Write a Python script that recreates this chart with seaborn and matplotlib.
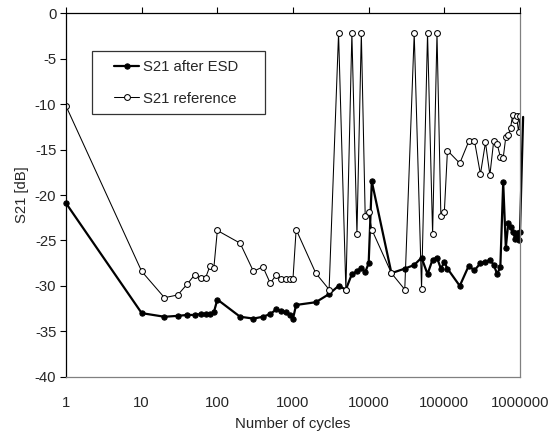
import numpy as np
import pandas as pd
import matplotlib
matplotlib.use("Agg")
import matplotlib.pyplot as plt
import matplotlib.ticker as mticker
import seaborn as sns

# ================= DADOS =================
cycles = [1, 10, 20, 30, 40, 50, 60, 70, 80, 90, 100,
          200, 300, 400, 500, 600, 700, 800, 900, 1000, 1100,
          2000, 3000, 4000, 5000, 6000, 7000, 8000, 9000, 10000, 11000,
          20000, 30000, 40000, 50000, 60000, 70000, 80000, 90000, 100000, 110000,
          160000, 210000, 250000, 300000, 350000, 400000, 450000, 500000, 550000,
          600000, 650000, 700000, 750000, 800000, 870000, 900000, 960000, 1000000,
          1100000]

s21_esd = [-20.9, -33.0, -33.4, -33.3, -33.2, -33.2, -33.1, -33.1, -33.1, -32.9, -31.5,
           -33.4, -33.6, -33.4, -33.1, -32.6, -32.8, -32.9, -33.2, -33.6, -32.1,
           -31.8, -30.9, -30.0, -30.4, -28.7, -28.4, -28.0, -28.5, -27.5, -18.5,
           -28.6, -28.1, -27.7, -26.9, -28.7, -27.1, -26.9, -28.1, -27.4, -28.1,
           -30.0, -27.8, -28.3, -27.5, -27.4, -27.1, -27.7, -28.7, -27.9,
           -18.6, -25.8, -23.1, -23.5, -24.1, -24.8, -24.2, -24.9, -24.1,
           -11.4]

s21_ref = [-10.2, -28.4, -31.3, -31.0, -29.8, -28.8, -29.1, -29.1, -27.8, -28.0, -23.9,
           -25.3, -28.4, -27.9, -29.7, -28.8, -29.2, -29.2, -29.2, -29.2, -23.8,
           -28.6, -30.4, -2.2, -30.5, -2.2, -24.3, -2.2, -22.3, -21.9, -23.8,
           -28.6, -30.4, -2.2, -30.3, -2.2, -24.3, -2.2, -22.3, -21.9, -15.1,
           -16.5, -14.1, -14.0, -17.7, -14.2, -17.8, -14.0, -14.4, -15.8,
           -15.9, -13.6, -13.4, -12.6, -11.2, -11.7, -11.3, -13.1, -11.3,
           np.nan]

x_ticks = [1, 10, 100, 1000, 10000, 100000, 1000000]
y_ticks = [-40, -35, -30, -25, -20, -15, -10, -5, 0]

FONTE = 10.7

# ================= GRÁFICO =================
sns.set_style("white")
plt.rcParams['font.family'] = ['Liberation Sans', 'DejaVu Sans']
plt.rcParams['axes.unicode_minus'] = False

df = pd.DataFrame({'cycles': cycles, 'esd': s21_esd, 'ref': s21_ref})

fig = plt.figure(figsize=(5.52, 4.32), dpi=100)
ax = fig.add_axes([0.1196, 0.128, 0.8224, 0.841])

n = len(df)
sns.lineplot(data=df, x='cycles', y='esd', ax=ax, color='black', linewidth=1.6,
             marker='o', markersize=3.8, markerfacecolor='black', markeredgecolor='black',
             label='S21 after ESD', estimator=None, sort=False, clip_on=False,
             markevery=list(range(n - 1)))
sns.lineplot(data=df.dropna(), x='cycles', y='ref', ax=ax, color='black', linewidth=0.75,
             marker='o', markersize=4.2, markerfacecolor='white', markeredgecolor='black',
             markeredgewidth=0.75, label='S21 reference', estimator=None, sort=False)

ax.set_xscale('log')
ax.set_xlim(1, 1000000)
ax.set_ylim(-40, 0)
ax.xaxis.set_major_locator(mticker.FixedLocator(x_ticks))
ax.xaxis.set_minor_locator(mticker.NullLocator())
ax.xaxis.set_major_formatter(mticker.FuncFormatter(lambda v, p: f"{int(round(v))}"))
ax.set_yticks(y_ticks)
ax.set_yticklabels([str(v) for v in y_ticks])

ax.tick_params(axis='x', top=True, bottom=False, labeltop=False, labelbottom=True,
               direction='out', length=4, width=0.8, color='black', labelsize=FONTE, pad=10)
ax.tick_params(axis='y', left=True, direction='out', length=4, width=0.8,
               color='black', labelsize=FONTE, pad=3)

for lado in ['left', 'top']:
    ax.spines[lado].set_color('black')
    ax.spines[lado].set_linewidth(0.9)
for lado in ['right', 'bottom']:
    ax.spines[lado].set_color('#808080')
    ax.spines[lado].set_linewidth(0.9)

ax.set_xlabel("Number of cycles", fontsize=FONTE, labelpad=5)
ax.set_ylabel("S21 [dB]", fontsize=FONTE, labelpad=4)

# legenda com moldura reta, como no Excel
leg = ax.legend(loc='upper left', bbox_to_anchor=(0.057, 0.725, 0.381, 0.172),
                mode='expand', frameon=True, fancybox=False, edgecolor='black',
                fontsize=FONTE, handlelength=2.6, borderpad=0.6, labelspacing=1.2,
                handletextpad=0.27, borderaxespad=0)
leg.get_frame().set_linewidth(0.9)
# encurta o traço da legenda (fica só a parte da direita)
for linha in leg.get_lines():
    xs = linha.get_xdata()
    x0, x1 = xs[0], xs[-1]
    novo_x0 = x1 - (x1 - x0) * 0.67
    linha.set_xdata([novo_x0, (novo_x0 + x1) / 2, x1])

fig.savefig("out.png", dpi=100)
